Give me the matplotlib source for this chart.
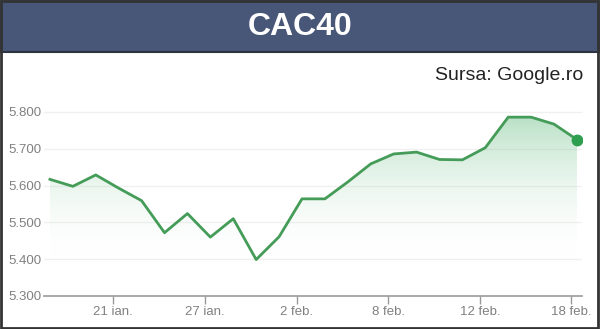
import matplotlib
matplotlib.use("Agg")
import matplotlib.pyplot as plt
import numpy as np
from matplotlib.patches import Rectangle
from matplotlib.colors import LinearSegmentedColormap

dates = ["18 ian.", "19 ian.", "20 ian.", "21 ian.", "22 ian.", "25 ian.", "26 ian.", "27 ian.",
         "28 ian.", "29 ian.", "1 feb.", "2 feb.", "3 feb.", "4 feb.", "5 feb.", "8 feb.",
         "9 feb.", "10 feb.", "11 feb.", "12 feb.", "15 feb.", "16 feb.", "17 feb.", "18 feb."]
values = [5.617, 5.598, 5.629, 5.593, 5.559, 5.472, 5.524, 5.460, 5.510, 5.399, 5.461, 5.564,
          5.564, 5.610, 5.659, 5.686, 5.691, 5.671, 5.670, 5.703, 5.786, 5.786, 5.767, 5.725]
tick_labels = ["21 ian.", "27 ian.", "2 feb.", "8 feb.", "12 feb.", "18 feb."]
y_ticks = [5.3, 5.4, 5.5, 5.6, 5.7, 5.8]
y_tick_labels = ["5.300", "5.400", "5.500", "5.600", "5.700", "5.800"]

W, H = 600, 329
fig = plt.figure(figsize=(W / 100, H / 100), dpi=100)
fig.patch.set_facecolor("white")

FONT = ["Liberation Sans", "DejaVu Sans"]

# title bar
fig.patches.append(Rectangle((0, 1 - 52 / H), 1, 52 / H, transform=fig.transFigure,
                             facecolor="#485678", edgecolor="none", zorder=0))
fig.add_artist(plt.Line2D([0, 1], [1 - 52 / H, 1 - 52 / H], transform=fig.transFigure,
                          color="#2e3340", lw=1.5))
fig.text(0.5, 1 - 27 / H, "CAC40", ha="center", va="center", color="white",
         fontsize=23, fontweight="bold", family=FONT)
# outer border
fig.patches.append(Rectangle((0.002, 0.003), 0.995, 0.994, transform=fig.transFigure,
                             facecolor="none", edgecolor="#333333", lw=2, zorder=10))

fig.text(583 / W, 1 - 76 / H, "Sursa: Google.ro", ha="right", va="center",
         color="#222222", fontsize=14, family=FONT)

ymin, ymax = 5.3, 5.85
px_per_unit = 368.0
ax_h = (ymax - ymin) * px_per_unit
ax = fig.add_axes([44 / W, 33 / H, (582 - 44) / W, ax_h / H])
x = np.arange(len(values))
ax.set_xlim(-0.26, len(values) - 1 + 0.22)
ax.set_ylim(ymin, ymax)

# gradient fill under line
cmap = LinearSegmentedColormap.from_list("g", [(1, 1, 1, 0), (0.36, 0.72, 0.47, 0.45)])
grad = np.clip((np.linspace(ymin, ymax, 256) - 5.38) / (5.80 - 5.38), 0, 1).reshape(-1, 1)
poly = ax.fill_between(x, values, ymin, color="none", lw=0)
img = ax.imshow(grad, aspect="auto", cmap=cmap, origin="lower",
                extent=[x[0], x[-1], ymin, ymax], zorder=1, vmin=0, vmax=1)
img.set_clip_path(poly.get_paths()[0], transform=ax.transData)

ax.plot(x, values, color="#449c58", lw=2, zorder=3, solid_joinstyle="round")
ax.plot([x[-1]], [values[-1]], "o", color="#2e9e4f", ms=7.5, zorder=4)

for yt in y_ticks[1:]:
    ax.axhline(yt, color="#f0f0f0", lw=1, zorder=0)

ax.set_yticks(y_ticks)
ax.set_yticklabels(y_tick_labels)
tick_pos = [dates.index(t) - 0.24 for t in tick_labels]
ax.set_xticks(tick_pos)
ax.set_xticklabels(tick_labels)
ax.tick_params(axis="y", length=0, pad=1.5, labelsize=9.5, labelcolor="#808080")
ax.tick_params(axis="x", length=6, width=1, color="#999999", pad=1.5,
               labelsize=9.5, labelcolor="#808080")
for lab in ax.get_xticklabels() + ax.get_yticklabels():
    lab.set_family(FONT)
for s in ["top", "right", "left"]:
    ax.spines[s].set_visible(False)
ax.spines["bottom"].set_color("#999999")
ax.spines["bottom"].set_linewidth(1.2)
ax.patch.set_alpha(0)

fig.savefig("out.png", dpi=100)
